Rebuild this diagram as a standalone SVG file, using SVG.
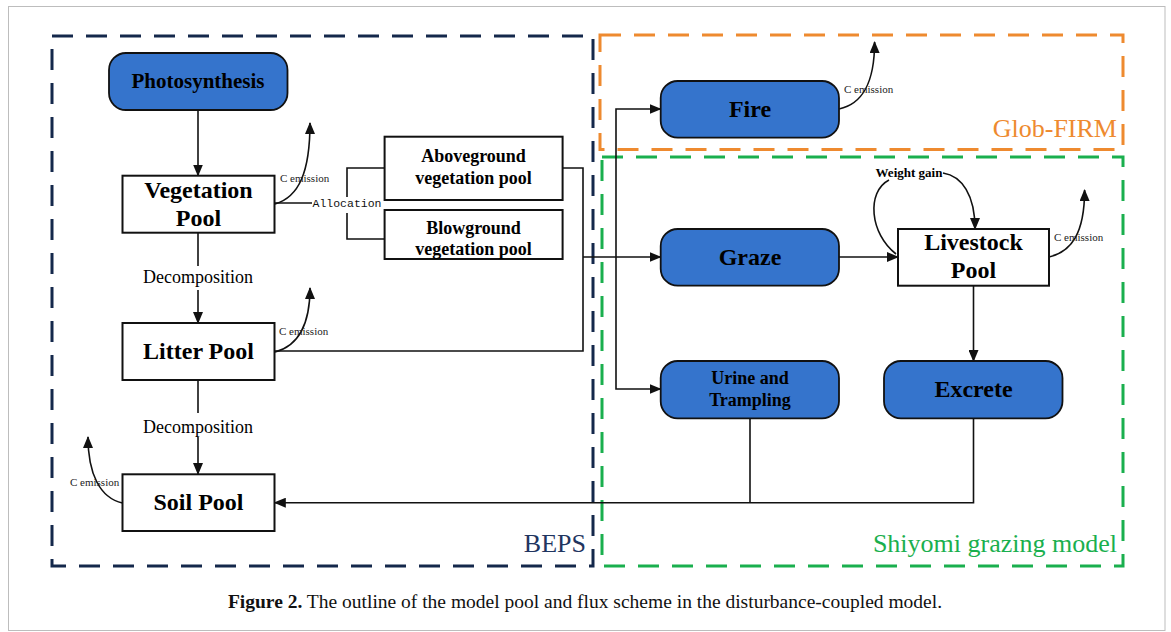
<svg xmlns="http://www.w3.org/2000/svg" width="1171" height="632" viewBox="0 0 1171 632">
<style>
  .frame{fill:none;stroke:#bdbdbd;stroke-width:1}
  .grp{fill:none;stroke-width:3;stroke-dasharray:21 13}
  .wbox{fill:#fff;stroke:#111;stroke-width:2}
  .bbox{fill:#3574CC;stroke:#111;stroke-width:1.8}
  .t{font-family:"Liberation Serif","Times New Roman",serif;fill:#000;text-anchor:middle}
  .b{font-weight:bold}
  .ce{font-family:"Liberation Serif","Times New Roman",serif;font-size:11px;fill:#222}
  .lbl{font-family:"Liberation Serif","Times New Roman",serif;font-size:26px}
  .ln{fill:none;stroke:#111;stroke-width:1.6}
  .arr{fill:none;stroke:#111;stroke-width:1.6;marker-end:url(#ah)}
</style>
<defs>
  <marker id="ah" markerWidth="12" markerHeight="10" refX="11" refY="5" orient="auto" markerUnits="userSpaceOnUse">
    <path d="M0,0 L12,5 L0,10 Z" fill="#111"/>
  </marker>
</defs>
<rect x="0" y="0" width="1171" height="632" fill="#fff"/>
<rect class="frame" x="8.5" y="6.5" width="1156.5" height="624"/>

<g id="group-beps">
  <rect class="grp" x="52" y="36" width="541" height="530" stroke="#14284B"/>
  <text class="lbl" x="586" y="552" text-anchor="end" fill="#1F3560">BEPS</text>
</g>
<g id="group-globfirm">
  <rect class="grp" x="600" y="35" width="523" height="114.5" stroke="#EE8A2F"/>
  <text class="lbl" x="1117" y="137" text-anchor="end" fill="#EE8A2F">Glob-FIRM</text>
</g>
<g id="group-shiyomi">
  <rect class="grp" x="602" y="157" width="521" height="409" stroke="#1AAF4E"/>
  <text class="lbl" x="1117" y="552" text-anchor="end" fill="#1AAF4E">Shiyomi grazing model</text>
</g>

<g id="connectors">
  <path class="arr" d="M198,110 V175.5"/>
  <path class="ln" d="M198,232.7 V266"/>
  <text class="t" x="198" y="283" font-size="18">Decomposition</text>
  <path class="arr" d="M198,290 V323"/>
  <path class="ln" d="M198,380 V413"/>
  <text class="t" x="198" y="433" font-size="18">Decomposition</text>
  <path class="arr" d="M198,437 V474"/>

  <path class="ln" d="M274.6,203 H347"/>
  <path class="ln" d="M384.6,168 H347 V239 H384.6"/>
  <rect x="312" y="197" width="70" height="16" fill="#fff"/>
  <text x="347" y="207" text-anchor="middle" font-family="'Liberation Mono','Courier New',monospace" font-size="11.5" fill="#111">Allocation</text>

  <path class="ln" d="M562.5,168 H583 V351 H274.6"/>
  <path class="arr" d="M583,257 H660.5"/>
  <path class="arr" d="M616,257 V109 H660.5"/>
  <path class="arr" d="M616,257 V389 H660.5"/>
  <path class="arr" d="M839,257 H898"/>
  <path class="arr" d="M973.5,285.7 V361"/>
  <path class="ln" d="M750,418.3 V502.7"/>
  <path class="arr" d="M973.5,418.3 V502.7 H274.8"/>

  <path class="arr" d="M275,204 C299,197 310,172 310,123"/>
  <text class="ce" x="280" y="182">C emission</text>
  <path class="arr" d="M275,352 C298,346 310,324 310,288"/>
  <text class="ce" x="279" y="335">C emission</text>
  <path class="arr" d="M122.5,503 C100,498 88,474 88,437"/>
  <text class="ce" x="70" y="486">C emission</text>
  <path class="arr" d="M839,109 C862,104 874.6,84 874.6,42"/>
  <text class="ce" x="844" y="93">C emission</text>
  <path class="arr" d="M1049,257 C1071,252 1084.6,234 1084.6,190"/>
  <text class="ce" x="1054" y="241">C emission</text>

  <path class="ln" d="M896,254 C870,234 866,192 889,180"/>
  <text class="t b" x="909" y="177" font-size="13">Weight gain</text>
  <path class="arr" d="M943,173 C962,176 975,195 975,229"/>
</g>

<g id="node-photosynthesis">
  <rect class="bbox" x="109" y="53" width="178.5" height="57" rx="17"/>
  <text class="t b" x="198" y="88" font-size="21">Photosynthesis</text>
</g>
<g id="node-vegetation">
  <rect class="wbox" x="122.5" y="175.7" width="152" height="57"/>
  <text class="t b" x="198.5" y="198" font-size="24">Vegetation</text>
  <text class="t b" x="198.5" y="226" font-size="24">Pool</text>
</g>
<g id="node-aboveground">
  <rect class="wbox" x="384.6" y="136.7" width="178" height="63.3"/>
  <text class="t b" x="473.5" y="162" font-size="18">Aboveground</text>
  <text class="t b" x="473.5" y="184" font-size="18">vegetation pool</text>
</g>
<g id="node-blowground">
  <rect class="wbox" x="384.6" y="210" width="178" height="49"/>
  <text class="t b" x="473.5" y="234" font-size="18">Blowground</text>
  <text class="t b" x="473.5" y="255" font-size="18">vegetation pool</text>
</g>
<g id="node-litter">
  <rect class="wbox" x="122.5" y="323" width="152" height="57"/>
  <text class="t b" x="198.5" y="359" font-size="24">Litter Pool</text>
</g>
<g id="node-soil">
  <rect class="wbox" x="122.5" y="474.3" width="152" height="56.7"/>
  <text class="t b" x="198.5" y="510" font-size="24">Soil Pool</text>
</g>
<g id="node-fire">
  <rect class="bbox" x="660.7" y="81" width="178.3" height="56.7" rx="17"/>
  <text class="t b" x="750" y="117" font-size="24">Fire</text>
</g>
<g id="node-graze">
  <rect class="bbox" x="660.7" y="229" width="178.3" height="56.7" rx="17"/>
  <text class="t b" x="750" y="265" font-size="24">Graze</text>
</g>
<g id="node-livestock">
  <rect class="wbox" x="898" y="229" width="151" height="56.7"/>
  <text class="t b" x="973.5" y="250" font-size="24">Livestock</text>
  <text class="t b" x="973.5" y="278" font-size="24">Pool</text>
</g>
<g id="node-urine">
  <rect class="bbox" x="660.7" y="361" width="178.3" height="57.3" rx="17"/>
  <text class="t b" x="750" y="384" font-size="18">Urine and</text>
  <text class="t b" x="750" y="406" font-size="18">Trampling</text>
</g>
<g id="node-excrete">
  <rect class="bbox" x="884" y="361" width="178.5" height="57.3" rx="17"/>
  <text class="t b" x="973.5" y="397" font-size="24">Excrete</text>
</g>

<text x="585" y="608" text-anchor="middle" font-family="'Liberation Serif','Times New Roman',serif" font-size="19.5" fill="#111"><tspan font-weight="bold">Figure 2.</tspan> The outline of the model pool and flux scheme in the disturbance-coupled model.</text>
</svg>
